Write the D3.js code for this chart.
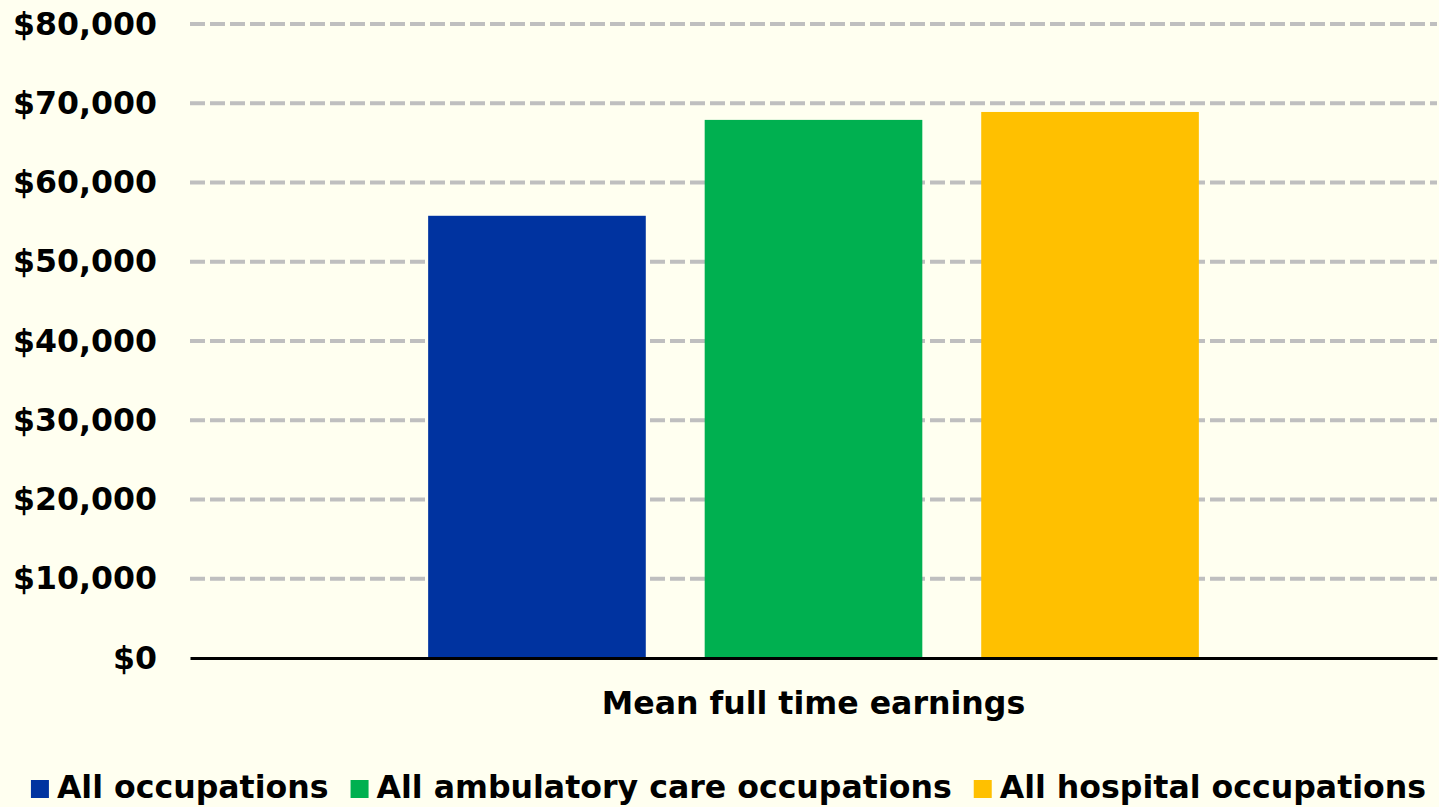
<!DOCTYPE html>
<html>
<head>
<meta charset="utf-8">
<script src="https://cdn.jsdelivr.net/npm/d3@7"></script>
<style>
    html, body { margin: 0; padding: 0; background: #fffff0; }
    svg { display: block; }
    text { font-family: "DejaVu Sans", Verdana, sans-serif; font-weight: bold; fill: #000; }
</style>
</head>
<body>
<div class="chart-container"></div>
<script>
// Data
const categories = ["Mean full time earnings"];
const seriesNames = ["All occupations", "All ambulatory care occupations", "All hospital occupations"];
const seriesValues = [55800, 67900, 68900];
const yTicks = [0, 10000, 20000, 30000, 40000, 50000, 60000, 70000, 80000];

const colors = ["#0033a0", "#00b050", "#ffc000"];
const fontSize = 31.6;

// Margin convention
const totalWidth = 1439;
const totalHeight = 807;
const margin = { top: 24, right: 2, bottom: 149, left: 190 };
const width = totalWidth - margin.left - margin.right;
const height = totalHeight - margin.top - margin.bottom;

const svg = d3.select('.chart-container')
    .append('svg')
    .attr('width', totalWidth)
    .attr('height', totalHeight);

svg.append('rect')
    .attr('width', totalWidth)
    .attr('height', totalHeight)
    .attr('fill', '#fffff0');

const g = svg.append('g')
    .attr('transform', `translate(${margin.left}, ${margin.top})`);

// Scales
const y = d3.scaleLinear()
    .domain([0, 80000])
    .range([height, 0]);

const x0 = d3.scaleBand()
    .domain(categories)
    .range([0, width])
    .paddingInner(0)
    .paddingOuter(0.309);

const x1 = d3.scaleBand()
    .domain(seriesNames)
    .range([0, x0.bandwidth()])
    .paddingInner(0.213)
    .paddingOuter(0);

// Gridlines
g.selectAll('.grid')
    .data(yTicks.filter(d => d > 0))
    .join('line')
    .attr('class', 'grid')
    .attr('x1', 0)
    .attr('x2', width)
    .attr('y1', d => y(d))
    .attr('y2', d => y(d))
    .attr('stroke', '#bfbfbf')
    .attr('stroke-width', 4)
    .attr('stroke-dasharray', '15,5');

// Y axis labels
const yAxis = d3.axisLeft(y)
    .tickValues(yTicks)
    .tickSize(0)
    .tickPadding(33)
    .tickFormat(d => '$' + d3.format(',')(d));

g.append('g')
    .attr('class', 'y-axis')
    .call(yAxis)
    .call(s => s.select('.domain').remove())
    .call(s => s.selectAll('text')
        .attr('font-size', fontSize)
        .attr('font-family', '"DejaVu Sans", Verdana, sans-serif')
        .attr('font-weight', 'bold')
        .attr('fill', '#000'));

// Bars
const group = g.selectAll('.cat')
    .data(categories)
    .join('g')
    .attr('class', 'cat')
    .attr('transform', d => `translate(${x0(d)}, 0)`);

group.selectAll('rect')
    .data(seriesNames.map((name, i) => ({ name, value: seriesValues[i], color: colors[i] })))
    .join('rect')
    .attr('x', d => x1(d.name))
    .attr('width', x1.bandwidth())
    .attr('y', d => y(d.value))
    .attr('height', d => height - y(d.value))
    .attr('fill', d => d.color);

// X axis line and category label
const xAxis = d3.axisBottom(x0)
    .tickSize(0)
    .tickPadding(34);

g.append('g')
    .attr('class', 'x-axis')
    .attr('transform', `translate(0, ${height})`)
    .call(xAxis)
    .call(s => s.select('.domain')
        .attr('stroke', '#000')
        .attr('stroke-width', 3))
    .call(s => s.selectAll('text')
        .attr('font-size', fontSize)
        .attr('font-family', '"DejaVu Sans", Verdana, sans-serif')
        .attr('font-weight', 'bold')
        .attr('fill', '#000'));

// Legend
const legend = svg.append('g')
    .attr('class', 'legend')
    .attr('transform', 'translate(0, 798)');

const items = legend.selectAll('.item')
    .data(seriesNames)
    .join('g')
    .attr('class', 'item');

items.append('rect')
    .attr('y', -18)
    .attr('width', 18)
    .attr('height', 18)
    .attr('fill', (d, i) => colors[i]);

items.append('text')
    .attr('x', 26)
    .attr('font-size', fontSize)
    .text(d => d);

// lay out legend items next to each other, centred
const gap = 22;
let widths = [];
items.each(function () { widths.push(this.getBBox().width); });
const legendWidth = d3.sum(widths) + gap * (widths.length - 1);
let cursor = 728.5 - legendWidth / 2;
items.attr('transform', (d, i) => {
    const t = `translate(${cursor}, 0)`;
    cursor += widths[i] + gap;
    return t;
});
</script>
</body>
</html>
